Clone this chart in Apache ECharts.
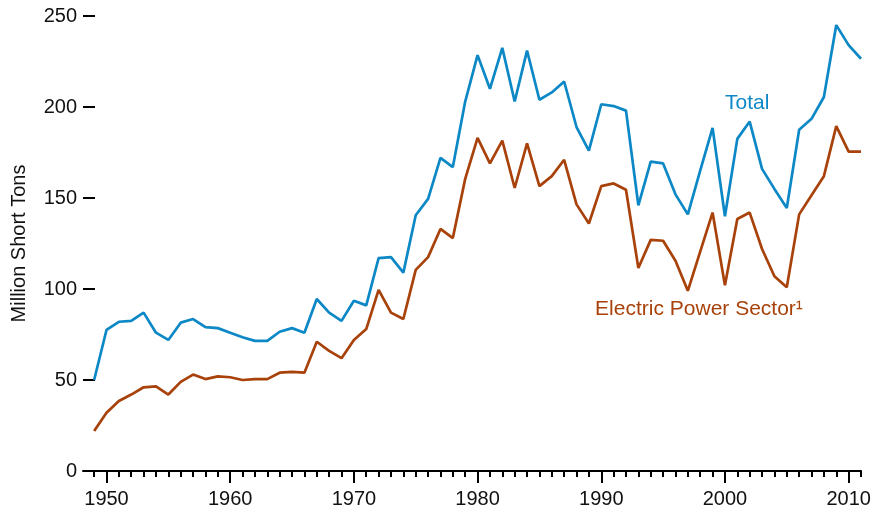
<!DOCTYPE html>
<html>
<head>
<meta charset="utf-8">
<script src="https://cdn.jsdelivr.net/npm/echarts@6/dist/echarts.min.js"></script>
<style>
    html, body { margin: 0; padding: 0; background: #fff; }
    #main { width: 875px; height: 513px; }
</style>
</head>
<body>
<div id="main"></div>
<script>
// years 1949..2011
var years = [];
for (var y = 1949; y <= 2011; y++) years.push(y);
var decades = [1950, 1960, 1970, 1980, 1990, 2000, 2010];

// million short tons
var total = [
    50, 77.5, 82, 82.5, 87, 76, 72, 81.5, 83.5, 79, 78.5,
    76, 73.5, 71.5, 71.5, 76.5, 78.5, 76, 94.5, 87, 82.5,
    93.5, 91, 117, 117.5, 109, 140.5, 149.5, 172, 167, 203,
    228.5, 210, 232.5, 203, 231, 204, 208, 214, 189, 176,
    201.5, 200.5, 198, 146, 170, 169, 152, 141, 165, 188.5,
    140, 182.5, 192, 166, 155, 144.5, 187.5, 193.5, 205.5, 245,
    234, 226.5
];
var electric = [
    22, 32, 38.5, 42, 46, 46.5, 42, 49, 53, 50.5, 52,
    51.5, 50, 50.5, 50.5, 54, 54.5, 54, 71, 66, 62,
    72, 78, 99.5, 87, 83.5, 110.5, 117.5, 133, 128, 160.5,
    183, 169, 181.5, 155.5, 180, 156.5, 162, 171, 146.5, 136,
    156.5, 158, 154.5, 111.5, 127, 126.5, 115.5, 99, 120.5, 142,
    102, 138.5, 142, 122, 107, 101, 141, 151.5, 162, 189.5,
    175.5, 175.5
];

var blue = '#0d88c6';
var brown = '#a8420a';
var font = 'Liberation Sans, Arial, sans-serif';

function pairs(vals) {
    return years.map(function (yr, i) { return [yr, vals[i]]; });
}

var option = {
    animation: false,
    textStyle: { fontFamily: font },
    grid: { left: 83, right: 14, top: 16, bottom: 42, outerBoundsMode: 'none' },
    xAxis: [
        {
            type: 'value',
            min: 1948.1,
            max: 2011,
            axisLine: { lineStyle: { color: '#000', width: 2 } },
            axisTick: { customValues: years, length: 6, lineStyle: { color: '#000', width: 2 } },
            axisLabel: { show: false },
            splitLine: { show: false }
        },
        {
            type: 'value',
            position: 'bottom',
            min: 1948.1,
            max: 2011,
            axisLine: { show: false },
            axisTick: { customValues: decades, length: 12, lineStyle: { color: '#000', width: 2 } },
            axisLabel: {
                customValues: decades,
                formatter: function (v) { return String(v); },
                margin: 18,
                fontSize: 20,
                color: '#111',
                fontFamily: font
            },
            splitLine: { show: false }
        }
    ],
    yAxis: {
        type: 'value',
        min: 0,
        max: 250,
        interval: 50,
        name: 'Million Short Tons',
        nameLocation: 'middle',
        nameRotate: 90,
        nameGap: 54,
        nameTextStyle: { fontSize: 20, color: '#111', fontFamily: font },
        axisLine: { show: false },
        axisTick: { show: true, inside: true, length: 12, lineStyle: { color: '#000', width: 2 } },
        axisLabel: { margin: 6, fontSize: 20, color: '#111', fontFamily: font },
        splitLine: { show: false }
    },
    series: [
        {
            name: 'Total',
            type: 'line',
            data: pairs(total),
            symbol: 'none',
            lineStyle: { color: blue, width: 2.7 },
            markPoint: {
                symbol: 'circle',
                symbolSize: 0,
                data: [{ coord: [2001.8, 202] }],
                label: {
                    show: true,
                    formatter: 'Total',
                    color: blue,
                    fontSize: 21,
                    fontFamily: font
                }
            }
        },
        {
            name: 'Electric Power Sector',
            type: 'line',
            data: pairs(electric),
            symbol: 'none',
            lineStyle: { color: brown, width: 2.7 },
            markPoint: {
                symbol: 'circle',
                symbolSize: 0,
                data: [{ coord: [1997.9, 89] }],
                label: {
                    show: true,
                    formatter: 'Electric Power Sector\u00b9',
                    color: brown,
                    fontSize: 21,
                    fontFamily: font
                }
            }
        }
    ]
};

var myChart = echarts.init(document.getElementById('main'));
myChart.setOption(option);
</script>
</body>
</html>
